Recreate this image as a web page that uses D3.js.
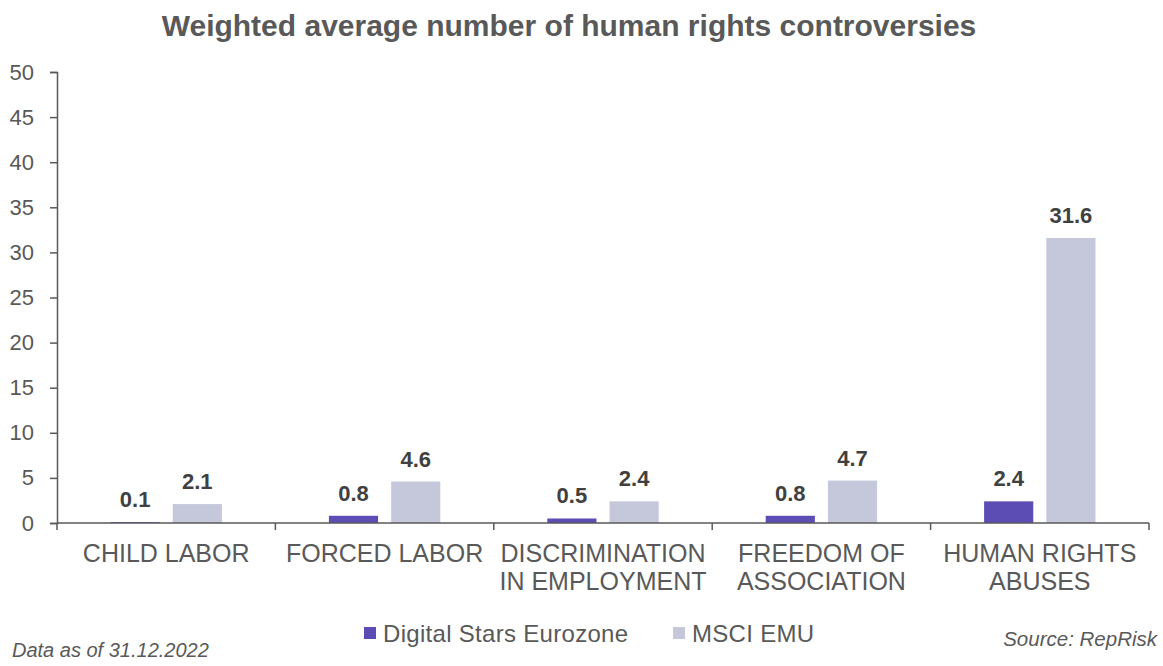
<!DOCTYPE html>
<html><head><meta charset="utf-8">
<script src="https://cdn.jsdelivr.net/npm/d3@7"></script>
<style>body{margin:0;background:#fff;} text{font-family:"Liberation Sans",Arial,Helvetica,sans-serif;}</style>
</head><body>
<svg id="c" width="1163" height="666"></svg>
<script>
const categories = [["CHILD LABOR"],["FORCED LABOR"],["DISCRIMINATION","IN EMPLOYMENT"],["FREEDOM OF","ASSOCIATION"],["HUMAN RIGHTS","ABUSES"]];
const seriesNames = ["Digital Stars Eurozone","MSCI EMU"];
const digitalStars = [0.1, 0.8, 0.5, 0.8, 2.4];
const msciEmu = [2.1, 4.6, 2.4, 4.7, 31.6];
const yTicks = [0,5,10,15,20,25,30,35,40,45,50];
const colors = ["#5b4db3","#c5c8da"];

const svg = d3.select("#c");
const mLeft = 57, mRight = 1149, mTop = 72, mBottom = 523;
const keys = categories.map((c,i)=>i);
const x0 = d3.scaleBand().domain(keys).range([mLeft,mRight]).paddingInner(0).paddingOuter(0);
const bw = x0.bandwidth();
const x1 = d3.scaleBand().domain([0,1]).range([bw*0.245, bw*0.755]).paddingInner(0.21).paddingOuter(0);
const y = d3.scaleLinear().domain([0,50]).range([mBottom, mTop]);
const axisColor = "#595959";

svg.append("text").attr("x",569).attr("y",36).attr("text-anchor","middle")
  .attr("font-size",30).attr("font-weight","bold").attr("fill","#595959")
  .text("Weighted average number of human rights controversies");

// Y axis
const ya = svg.append("g").attr("transform",`translate(${mLeft},0)`)
  .call(d3.axisLeft(y).tickValues(yTicks).tickSize(7).tickPadding(16));
ya.select(".domain").attr("stroke",axisColor).attr("stroke-width",1.5);
ya.selectAll(".tick line").attr("stroke",axisColor).attr("stroke-width",1.5);
ya.selectAll(".tick text").attr("font-size",22).attr("fill","#595959").attr("font-family","Liberation Sans, Arial, sans-serif");

// bars
const data = keys.map(i=>[digitalStars[i], msciEmu[i]]);
const g = svg.append("g");
keys.forEach(i=>{
  data[i].forEach((v,s)=>{
    const bx = x0(i)+x1(s);
    g.append("rect").attr("x",bx).attr("y",y(v)).attr("width",x1.bandwidth())
      .attr("height",mBottom-y(v)).attr("fill",colors[s]);
    g.append("text").attr("x",bx+x1.bandwidth()/2).attr("y",y(v)-15)
      .attr("text-anchor","middle").attr("font-size",22).attr("font-weight","bold")
      .attr("fill","#404040").text(v.toFixed(1));
  });
});

// X axis
const xa = svg.append("g").attr("transform",`translate(0,${mBottom})`);
xa.append("line").attr("x1",mLeft).attr("x2",mRight).attr("y1",0).attr("y2",0)
  .attr("stroke",axisColor).attr("stroke-width",1.5);
keys.concat([keys.length]).forEach(i=>{
  const xx = i<keys.length ? x0(i) : mRight;
  xa.append("line").attr("x1",xx).attr("x2",xx).attr("y1",0).attr("y2",7)
    .attr("stroke",axisColor).attr("stroke-width",1.5);
});
keys.forEach(i=>{
  const t = xa.append("text").attr("text-anchor","middle").attr("font-size",25)
    .attr("fill","#595959");
  categories[i].forEach((line,j)=>{
    t.append("tspan").attr("x",x0(i)+bw/2).attr("y",39+j*28).text(line);
  });
});

// legend
const leg = [{x:364,tx:383},{x:673,tx:692}];
seriesNames.forEach((n,s)=>{
  svg.append("rect").attr("x",leg[s].x).attr("y",627).attr("width",12).attr("height",12).attr("fill",colors[s]);
  svg.append("text").attr("x",leg[s].tx).attr("y",642).attr("font-size",24).attr("letter-spacing",0.3).attr("fill","#595959").text(n);
});

svg.append("text").attr("x",1157).attr("y",646).attr("text-anchor","end").attr("font-size",20.5)
  .attr("font-style","italic").attr("fill","#595959").text("Source: RepRisk");
svg.append("text").attr("x",12).attr("y",657).attr("font-size",20)
  .attr("font-style","italic").attr("fill","#595959").text("Data as of 31.12.2022");
</script>
</body></html>
